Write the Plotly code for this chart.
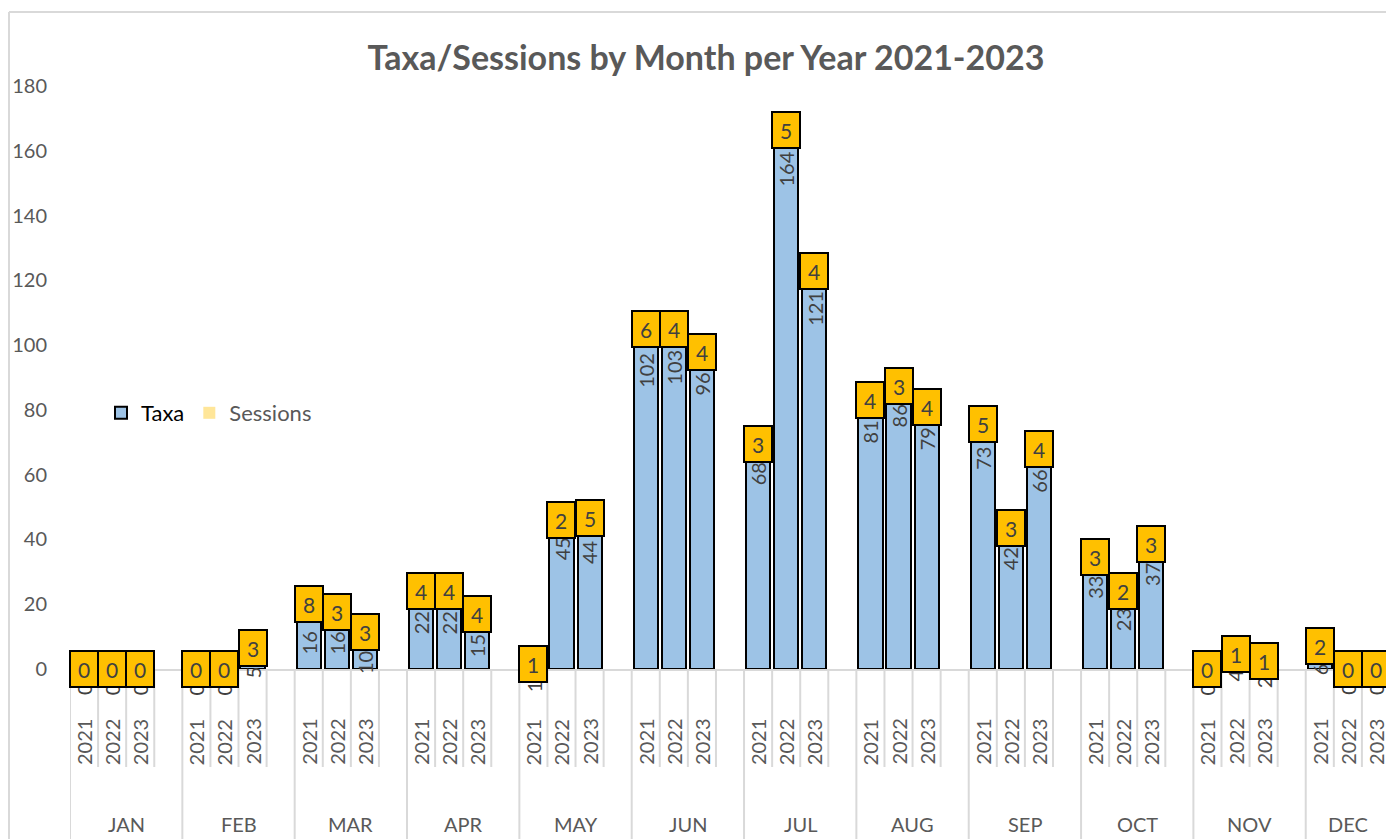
import plotly.graph_objects as go

months = ["JAN", "FEB", "MAR", "APR", "MAY", "JUN", "JUL", "AUG", "SEP", "OCT", "NOV", "DEC"]
years = ["2021", "2022", "2023"]
taxa = [
    [0, 0, 0], [0, 0, 5], [16, 16, 10], [22, 22, 15], [1, 45, 44], [102, 103, 96],
    [68, 164, 121], [81, 86, 79], [73, 42, 66], [33, 23, 37], [0, 4, 2], [6, 0, 0],
]
sessions = [
    [0, 0, 0], [0, 0, 3], [8, 3, 3], [4, 4, 4], [1, 2, 5], [6, 4, 4],
    [3, 5, 4], [4, 3, 4], [5, 3, 4], [3, 2, 3], [0, 1, 1], [2, 0, 0],
]
y_ticks = [0, 20, 40, 60, 80, 100, 120, 140, 160, 180]

FONT = "Lato"
GRAY = "#595959"
DARK = "#404040"
GRID = "#D9D9D9"

xs, tv, sv = [], [], []
for m in range(len(months)):
    for k in range(len(years)):
        xs.append(4 * m + k)
        tv.append(taxa[m][k])
        sv.append(sessions[m][k])

n_slots = 4 * len(months) - 1

# page is offset by the default 8px body margin
OFF = 8
FIG_W, FIG_H = 1394 - OFF, 839 - OFF
plot_left, plot_right = 70 - OFF, 1390 - OFF
plot_top, plot_bot = 86 - OFF, 669 - OFF
pw = plot_right - plot_left
ph = plot_bot - plot_top


def py(page_y):
    return (plot_bot - (page_y - OFF)) / ph


def px(page_x):
    return ((page_x - OFF) - plot_left) / pw


fig = go.Figure()
fig.add_trace(go.Bar(
    x=xs, y=tv, name="<span style='color:#000000'>Taxa</span>", width=0.86,
    marker=dict(color="#9DC3E6", line=dict(color="#000000", width=2)),
    hoverinfo="skip",
))
fig.add_trace(go.Bar(
    x=xs, y=sv, name="Sessions", width=0.86,
    marker=dict(color="#FFE699", line=dict(width=0)),
    hoverinfo="skip",
))

annotations = []
# Taxa value labels (inside end, rotated)
for x, t in zip(xs, tv):
    annotations.append(dict(
        x=x, y=t, xref="x", yref="y", text=str(t), textangle=-90,
        showarrow=False, yanchor="top", xanchor="center", yshift=-12,
        font=dict(family=FONT, size=20, color=DARK),
    ))
# Sessions labels in boxes, centered on the stacked segment
for x, t, s in zip(xs, tv, sv):
    annotations.append(dict(
        x=x, y=t + s / 2, xref="x", yref="y", text=str(s),
        showarrow=False, xanchor="center", yanchor="middle",
        width=26, height=34, borderpad=0, borderwidth=2,
        bgcolor="#FFC000", bordercolor="#000000",
        font=dict(family=FONT, size=21, color=DARK),
    ))

# Category axis labels
for x in xs:
    annotations.append(dict(
        x=x, y=py(767), xref="x", yref="paper", text=years[x % 4], textangle=-90,
        showarrow=False, xanchor="center", yanchor="bottom",
        font=dict(family=FONT, size=20, color=GRAY),
    ))
for m, name in enumerate(months):
    cx = 4 * m + (1.5 if m < len(months) - 1 else 1)
    annotations.append(dict(
        x=cx, y=py(838), xref="x", yref="paper", text=name,
        showarrow=False, xanchor="center", yanchor="bottom",
        font=dict(family=FONT, size=20, color=GRAY),
    ))

shapes = []
for b in range(n_slots + 1):
    xb = b - 0.5
    full = (b % 4 == 0) and b < n_slots
    shapes.append(dict(
        type="line", xref="x", yref="paper", x0=xb, x1=xb,
        y0=0, y1=py(845) if full else py(767),
        line=dict(color=GRID, width=2), layer="below",
    ))
# chart border (top and left)
shapes.append(dict(type="line", xref="paper", yref="paper",
                   x0=px(9), x1=1.1, y0=py(12), y1=py(12),
                   line=dict(color=GRID, width=2)))
shapes.append(dict(type="line", xref="paper", yref="paper",
                   x0=px(9), x1=px(9), y0=py(12), y1=py(845),
                   line=dict(color=GRID, width=2)))

fig.update_layout(
    width=FIG_W, height=FIG_H,
    margin=dict(l=plot_left, r=FIG_W - plot_right, t=plot_top, b=FIG_H - plot_bot),
    paper_bgcolor="white", plot_bgcolor="white",
    barmode="stack",
    title=dict(text="<b>Taxa/Sessions by Month per Year 2021-2023</b>",
               x=(706 - OFF) / FIG_W, xref="container", xanchor="center",
               y=1 - (58 - OFF) / FIG_H, yanchor="middle",
               font=dict(family=FONT, size=34, color=GRAY)),
    xaxis=dict(range=[-0.5, n_slots - 0.5], showticklabels=False, ticks="",
               showgrid=False, zeroline=False, showline=True, linecolor=GRID, linewidth=2),
    yaxis=dict(range=[0, 180], tickvals=y_ticks, showgrid=False, zeroline=False,
               showline=False, ticks="", ticklabelstandoff=22,
               tickfont=dict(family=FONT, size=20, color=GRAY)),
    legend=dict(orientation="h", x=px(101), xanchor="left",
                y=py(413), yanchor="middle", itemwidth=30, traceorder="normal",
                font=dict(family=FONT, size=22, color=GRAY), bgcolor="rgba(0,0,0,0)"),
    annotations=annotations,
    shapes=shapes,
    showlegend=True,
)

fig.write_html("out.html")
